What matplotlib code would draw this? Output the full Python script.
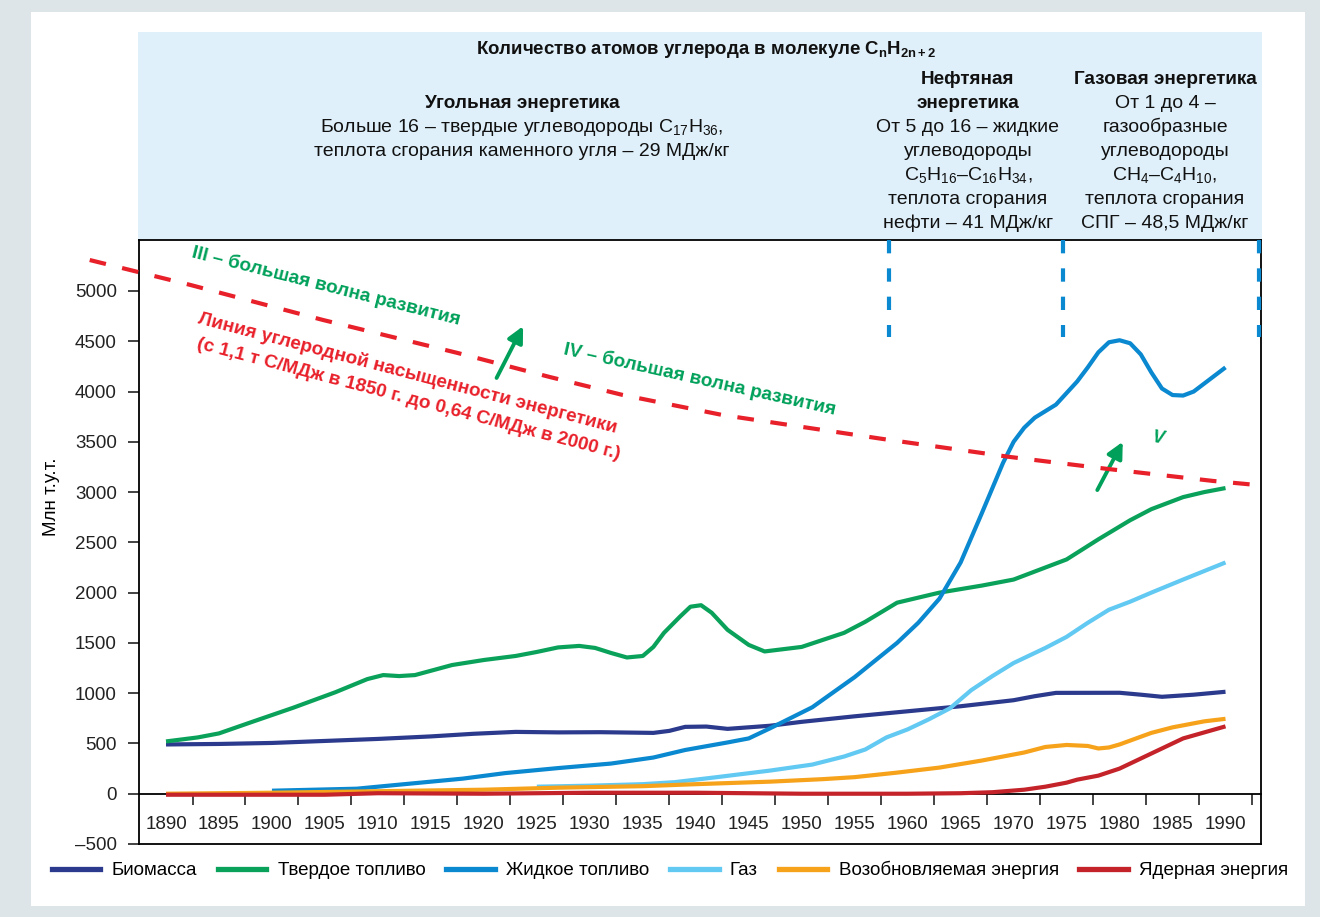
import matplotlib.pyplot as plt
from matplotlib.patches import Rectangle
from matplotlib.lines import Line2D

plt.rcParams['font.family'] = ['Liberation Sans', 'DejaVu Sans']
plt.rcParams['mathtext.fontset'] = 'custom'
plt.rcParams['mathtext.rm'] = 'Liberation Sans'
plt.rcParams['mathtext.it'] = 'Liberation Sans:italic'
plt.rcParams['mathtext.bf'] = 'Liberation Sans:bold'

# --- data (млн т.у.т.) ---
biomass_years = [1890, 1895, 1900, 1905, 1910, 1915, 1919, 1923, 1927, 1931, 1936, 1937.5, 1939,
                 1941, 1943, 1947, 1950, 1955, 1960, 1965, 1970, 1972, 1974, 1980, 1982, 1984, 1987, 1990]
biomass_vals = [490, 495, 505, 525, 545, 570, 596, 615, 610, 612, 605, 625, 665,
                668, 645, 676, 715, 770, 820, 870, 930, 970, 1003, 1004, 985, 964, 985, 1014]

solid_years = [1890, 1893, 1895, 1898, 1902, 1906, 1909, 1910.5, 1912, 1913.5, 1917, 1920, 1923,
               1925, 1927, 1929, 1930.5, 1932, 1933.5, 1935, 1936, 1937, 1938.5, 1939.5, 1940.5,
               1941.5, 1943, 1945, 1946.5, 1950, 1954, 1956, 1959, 1963, 1967, 1970, 1973, 1975,
               1978, 1981, 1983, 1986, 1988, 1990]
solid_vals = [520, 560, 600, 710, 855, 1010, 1140, 1180, 1170, 1180, 1280, 1330, 1370,
              1410, 1455, 1470, 1450, 1400, 1355, 1370, 1460, 1600, 1760, 1860, 1875,
              1800, 1630, 1480, 1415, 1460, 1600, 1710, 1900, 2000, 2070, 2130, 2250, 2330,
              2530, 2720, 2830, 2950, 3000, 3040]

liquid_years = [1900, 1908, 1913, 1918, 1922, 1927, 1932, 1936, 1939, 1943, 1945, 1947, 1951, 1955,
                1959, 1961, 1963, 1965, 1967, 1969, 1970, 1971, 1972, 1974, 1976, 1977, 1978, 1979,
                1980, 1981, 1982, 1983, 1984, 1985, 1986, 1987, 1988, 1989, 1990]
liquid_vals = [30, 50, 100, 150, 205, 255, 300, 360, 435, 510, 550, 650, 860, 1160,
               1500, 1700, 1940, 2300, 2790, 3290, 3500, 3640, 3740, 3870, 4100, 4240, 4390, 4490,
               4510, 4480, 4370, 4190, 4030, 3965, 3960, 4000, 4080, 4160, 4240]

gas_years = [1925, 1930, 1935, 1938, 1942, 1947, 1951, 1954, 1956, 1958, 1960, 1962, 1964, 1966,
             1968, 1970, 1973, 1975, 1977, 1979, 1981, 1983, 1986, 1990]
gas_vals = [70, 80, 95, 115, 165, 230, 290, 370, 440, 560, 640, 740, 850, 1030,
            1170, 1300, 1450, 1560, 1700, 1830, 1910, 2000, 2130, 2300]

renew_years = [1890, 1900, 1910, 1920, 1927, 1935, 1940, 1947, 1952, 1955, 1959, 1963, 1967, 1971,
               1973, 1975, 1977, 1978, 1979, 1980, 1983, 1985, 1988, 1990]
renew_vals = [0, 10, 25, 40, 60, 75, 95, 120, 145, 165, 210, 260, 330, 410,
              465, 485, 475, 450, 460, 490, 605, 660, 720, 745]

nuclear_years = [1890, 1900, 1905, 1910, 1920, 1930, 1940, 1950, 1960, 1965, 1968, 1971, 1973,
                 1975, 1976, 1977, 1978, 1980, 1982, 1984, 1986, 1988, 1990]
nuclear_vals = [-10, -10, -10, 5, 0, 10, 10, 0, 0, 5, 15, 40, 70,
                110, 140, 160, 180, 250, 350, 450, 550, 610, 670]

series_names = ['Биомасса', 'Твердое топливо', 'Жидкое топливо', 'Газ',
                'Возобновляемая энергия', 'Ядерная энергия']
series_colors = ['#2b3a8c', '#0aa25a', '#0a88d0', '#62c9f2', '#f7a21b', '#c4232a']

label_years = list(range(1890, 1991, 5))
tick_years = [y + 2.5 for y in label_years]
y_ticks = list(range(-500, 5001, 500))
y_labels = [str(v).replace('-', '–') for v in y_ticks]

# carbon saturation line and era boundaries
carbon_years = [1882.8, 1892.3, 1904.8, 1917.5, 1926.2, 1933.1, 1942.5, 1957.6, 1969.6, 1978.8,
                1988.8, 1993.8]
carbon_vals = [5308, 5060, 4712, 4384, 4145, 3966, 3767, 3529, 3350, 3231, 3111, 3062]
era_bounds = [1958.2, 1974.7, 1993.2]
era_bottom = 4545

arrow_iii_iv = ((1921.2, 4135), (1923.7, 4650))
arrow_v = ((1977.9, 3020), (1980.3, 3500))

W, H = 1320, 917
def fx(px):
    return px / W
def fy(py):
    return 1 - py / H

fig = plt.figure(figsize=(13.2, 9.17), dpi=100, facecolor='#dee5e9')
fig.patches.append(Rectangle((fx(31), fy(906)), (1305 - 31) / W, (906 - 12) / H,
                             transform=fig.transFigure, facecolor='white', edgecolor='none', zorder=-2))
fig.patches.append(Rectangle((fx(138), fy(240)), (1262 - 138) / W, (240 - 32) / H,
                             transform=fig.transFigure, facecolor='#dff0fa', edgecolor='none', zorder=-1))

ax = fig.add_axes([fx(139), fy(844), (1261 - 139) / W, (844 - 240) / H])
ax.set_facecolor('none')
ymin, ymax = -500, 5507
ax.set_xlim(1887.45, 1993.35)
ax.set_ylim(ymin, ymax)

series = [(biomass_years, biomass_vals), (solid_years, solid_vals), (liquid_years, liquid_vals),
          (gas_years, gas_vals), (renew_years, renew_vals), (nuclear_years, nuclear_vals)]
order = [3, 4, 0, 1, 2, 5]
for i in order:
    xs, ys = series[i]
    ax.plot(xs, ys, color=series_colors[i], lw=3, solid_capstyle='butt',
            solid_joinstyle='round', zorder=3 + i * 0.1)

# carbon line
ax.plot(carbon_years, carbon_vals, color='#e8202a', lw=3, dashes=(4, 4), clip_on=False, zorder=4)
for xb in era_bounds:
    ax.plot([xb, xb], [ymax, era_bottom], color='#0a88d0', lw=3, dashes=(3.2, 3.6),
            solid_capstyle='butt', clip_on=False, zorder=4)

for (x0, y0), (x1, y1) in [arrow_iii_iv, arrow_v]:
    ax.annotate('', xy=(x1, y1), xytext=(x0, y0),
                arrowprops=dict(arrowstyle='-|>', color='#00a05a', lw=2.8, mutation_scale=24,
                                shrinkA=0, shrinkB=0))

# axes styling
for s in ['top', 'right', 'left', 'bottom']:
    ax.spines[s].set_linewidth(1.3)
    ax.spines[s].set_color('black')
ax.set_xticks([])
ax.set_yticks(y_ticks)
ax.set_yticklabels(y_labels)
ax.tick_params(axis='y', length=8, width=1.2, pad=8, labelsize=13.5, colors='#222222')

zero_frac = (0 - ymin) / (ymax - ymin)
sec = ax.secondary_xaxis(zero_frac)
sec.set_xticks(tick_years)
sec.set_xticks(label_years, labels=[str(y) for y in label_years], minor=True)
sec.tick_params(which='major', direction='out', length=8, width=1.4, color='#444444', labelbottom=False)
sec.tick_params(which='minor', length=0, pad=16, labelsize=13.5, labelcolor='#222222')
sec.spines['bottom'].set_linewidth(1.3)

fig.text(fx(52), fy(497), 'Млн т.у.т.', rotation=90, ha='center', va='center', fontsize=13.5)

# header
hdr = dict(ha='center', va='center', color='#111111')
fig.text(fx(706), fy(50), r'Количество атомов углерода в молекуле $\mathbf{C_{n}H_{2n+2}}$',
         fontweight='bold', fontsize=13.4, **hdr)
coal_lines = [('Угольная энергетика', True),
              (r'Больше 16 – твердые углеводороды $\mathrm{C_{17}H_{36}}$,', False),
              ('теплота сгорания каменного угля – 29 МДж/кг', False)]
oil_lines = [('Нефтяная', True), ('энергетика', True), ('От 5 до 16 – жидкие', False),
             ('углеводороды', False), (r'$\mathrm{C_{5}H_{16}}$–$\mathrm{C_{16}H_{34}}$,', False),
             ('теплота сгорания', False), ('нефти – 41 МДж/кг', False)]
gas_lines = [('Газовая энергетика', True), ('От 1 до 4 –', False), ('газообразные', False),
             ('углеводороды', False), (r'$\mathrm{CH_{4}}$–$\mathrm{C_{4}H_{10}}$,', False),
             ('теплота сгорания', False), ('СПГ – 48,5 МДж/кг', False)]
for lines, cx, top in [(coal_lines, 522, 104), (oil_lines, 968, 79), (gas_lines, 1165, 79)]:
    for k, (t, b) in enumerate(lines):
        fig.text(fx(cx), fy(top + 24 * k), t, fontweight='bold' if b else 'normal',
                 fontsize=13.6 if b else 14, **hdr)

# annotations
green = '#00a05a'
red = '#e8202a'
ann = dict(ha='center', va='center', rotation_mode='anchor', fontweight='bold', fontsize=13.7)
fig.text(fx(326), fy(286), 'III – большая волна развития', color=green, rotation=-14.2, **ann)
fig.text(fx(408), fy(373), 'Линия углеродной насыщенности энергетики', color=red, rotation=-14.7, **ann)
fig.text(fx(409), fy(399), '(с 1,1 т С/МДж в 1850 г. до 0,64 С/МДж в 2000 г.)', color=red,
         rotation=-14.7, **ann)
fig.text(fx(700), fy(380), 'IV – большая волна развития', color=green, rotation=-12.6, **ann)
fig.text(fx(1158), fy(438), 'V', color=green, rotation=-8, style='italic',
         ha='center', va='center', fontweight='bold', fontsize=13)

# legend
handles = [Line2D([], [], color=c, lw=3.8) for c in series_colors]
fig.legend(handles, series_names, loc='center', bbox_to_anchor=(fx(670), fy(870)), ncol=6,
           frameon=False, fontsize=13.5, handlelength=2.6, handletextpad=0.6, columnspacing=1.1)

fig.savefig('out.png', dpi=100, facecolor=fig.get_facecolor())
